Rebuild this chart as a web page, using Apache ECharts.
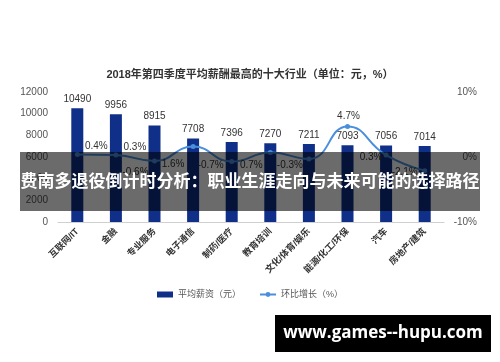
<!DOCTYPE html>
<html><head><meta charset="utf-8">
<script src="https://cdn.jsdelivr.net/npm/echarts@6/dist/echarts.min.js"></script>
<style>html,body{margin:0;padding:0;background:#fff}#c{width:500px;height:362px}</style>
</head><body><div id="c"></div>
<script>
const categories = ['互联网/IT','金融','专业服务','电子通信','制药/医疗','教育培训','文化/体育/娱乐','能源/化工/环保','汽车','房地产/建筑'];
const salary = [10490, 9956, 8915, 7708, 7396, 7270, 7211, 7093, 7056, 7014];
const growth = [0.4, 0.3, -0.6, 1.6, -0.7, 0.7, -0.3, 4.7, 0.3, -2.1];
const leftTicks = [0, 2000, 4000, 6000, 8000, 10000, 12000];
const rightTicks = [-10, 0, 10];
const titleText = '2018年第四季度平均薪酬最高的十大行业（单位：元，%）';
const bannerText = '费南多退役倒计时分析：职业生涯走向与未来可能的选择路径';
const siteText = 'www.games--hupu.com';

// label offsets (style only)
const lineLabelOffsets = [[19,-8],[19,-8],[-19,11],[-20,18],[-21,3.5],[-19,12.6],[-19,6],[1,-10],[-15,2],[-20,1.4]];

const chart = echarts.init(document.getElementById('c'), null, {renderer:'canvas'});
const FONT = '"Liberation Sans", Arial, "Noto Sans CJK SC", sans-serif';
chart.setOption({
  animation: false,
  textStyle: {fontFamily: FONT},
  title: {text: titleText, left: 'center', top: 64,
    textStyle: {fontSize: 11, fontWeight: 'bold', color: '#333', fontFamily: FONT}},
  legend: {
    bottom: 58, left: 'center', itemGap: 18, itemWidth: 16, itemHeight: 6,
    textStyle: {fontSize: 9, color: '#555'},
    data: [{name: '平均薪资（元）', icon: 'rect'}, {name: '环比增长（%）'}]
  },
  grid: {left: 58, right: 56, top: 92, bottom: 140},
  xAxis: {
    type: 'category', data: categories,
    axisLine: {lineStyle: {color: '#d0d0d0'}},
    axisTick: {show: false},
    axisLabel: {rotate: 45, interval: 0, fontSize: 9, fontWeight: 'bold', color: '#333', margin: 8}
  },
  yAxis: [{
    type: 'value', min: leftTicks[0], max: leftTicks[leftTicks.length-1], interval: leftTicks[1]-leftTicks[0],
    axisLine: {show: false}, axisTick: {show: false}, splitLine: {show: false},
    axisLabel: {fontSize: 10, color: '#555', margin: 10, formatter: v => String(v)}
  }, {
    type: 'value', min: rightTicks[0], max: rightTicks[rightTicks.length-1], interval: rightTicks[1]-rightTicks[0],
    axisLine: {show: false}, axisTick: {show: false}, splitLine: {show: false},
    axisLabel: {fontSize: 10, color: '#555', formatter: v => v + '%', align: 'right', margin: 33}
  }],
  series: [{
    name: '平均薪资（元）', type: 'bar', data: salary, barWidth: 12,
    itemStyle: {color: '#102f88'},
    label: {show: true, position: 'top', distance: 4, fontSize: 10, color: '#333'}
  }, {
    name: '环比增长（%）', type: 'line', yAxisIndex: 1, smooth: true,
    symbol: 'circle', symbolSize: 5,
    lineStyle: {color: '#4a8fdc', width: 2}, itemStyle: {color: '#4a8fdc'},
    data: growth.map((v, i) => ({value: v, label: {offset: lineLabelOffsets[i]}})),
    label: {show: true, position: 'inside', fontSize: 10, color: '#333', formatter: p => p.value + '%'}
  }],
  graphic: [{
    type: 'rect', shape: {x: 20, y: 152, width: 460, height: 59}, z: 100,
    style: {fill: 'rgba(0,0,0,0.58)'}
  }, {
    type: 'text', x: 250, y: 181, z: 101,
    style: {text: bannerText, fill: '#fff', font: 'bold 17px "Noto Sans CJK SC", sans-serif', textAlign: 'center', textVerticalAlign: 'middle'}
  }, {
    type: 'rect', shape: {x: 275, y: 315, width: 216, height: 37}, z: 100,
    style: {fill: '#000'}
  }, {
    type: 'text', x: 383, y: 333, z: 101,
    style: {text: siteText, fill: '#fff', font: 'bold 17px "Open Sans", "DejaVu Sans", sans-serif', textAlign: 'center', textVerticalAlign: 'middle'}
  }]
});
</script></body></html>
